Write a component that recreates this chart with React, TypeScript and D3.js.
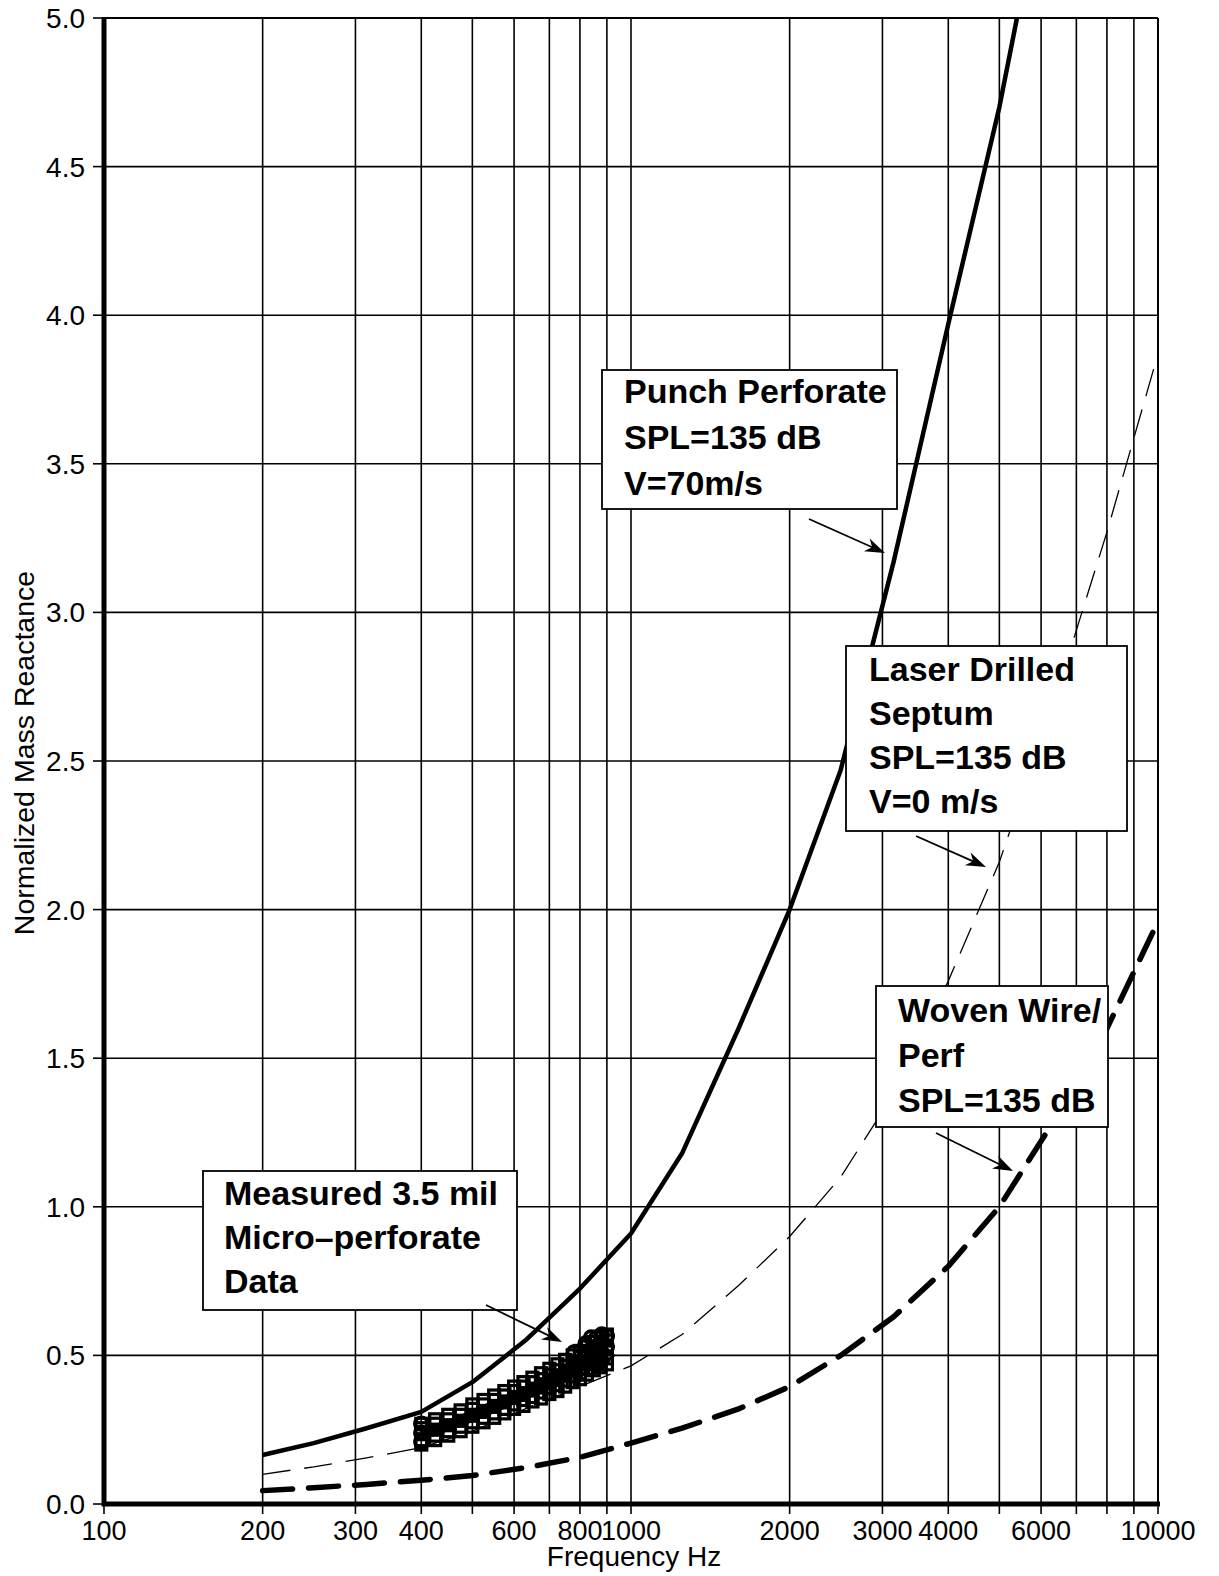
import React from "react";
import * as d3 from "d3";

const W = 1219;
const H = 1576;
const PL = 104, PR = 1158, PT = 18, PB = 1504;

// gridlines / ticks
const xGridFreqs = [200, 300, 400, 500, 600, 700, 800, 900, 1000, 2000, 3000, 4000, 5000, 6000, 7000, 8000, 9000, 10000];
const xTickMarks = [100, 200, 300, 400, 500, 600, 700, 800, 900, 1000, 2000, 3000, 4000, 5000, 6000, 7000, 8000, 9000, 10000];
const xTickLabels = [100, 200, 300, 400, 600, 800, 1000, 2000, 3000, 4000, 6000, 10000];
const yTicks = [0, 0.5, 1.0, 1.5, 2.0, 2.5, 3.0, 3.5, 4.0, 4.5, 5.0];

// Punch Perforate SPL=135 dB V=70 m/s (solid)
const punchFreq = [200, 250, 315, 400, 500, 630, 800, 1000, 1250, 1600, 2000, 2500, 3150, 4000, 5000, 5400];
const punchVal = [0.165, 0.205, 0.255, 0.31, 0.41, 0.55, 0.725, 0.91, 1.18, 1.6, 2.0, 2.47, 3.17, 3.97, 4.7, 5.0];

// Laser Drilled Septum (thin dashed)
const laserFreq = [200, 250, 315, 400, 500, 630, 800, 1000, 1250, 1600, 2000, 2500, 3150, 4000, 5000, 6300, 8000, 10000];
const laserVal = [0.1, 0.125, 0.155, 0.19, 0.245, 0.32, 0.395, 0.465, 0.57, 0.735, 0.9, 1.1, 1.38, 1.76, 2.16, 2.68, 3.27, 3.87];

// Woven Wire / Perf (thick dashed)
const wovenFreq = [200, 250, 315, 400, 500, 630, 800, 1000, 1250, 1600, 2000, 2500, 3150, 4000, 5000, 6300, 8000, 10000];
const wovenVal = [0.045, 0.055, 0.066, 0.08, 0.096, 0.122, 0.157, 0.205, 0.255, 0.32, 0.395, 0.5, 0.63, 0.8, 1.0, 1.28, 1.6, 1.96];

// Measured 3.5 mil micro-perforate data
const measFreq = [400, 425, 450, 475, 500, 525, 550, 575, 600, 625, 650, 675, 700, 725, 750, 775, 800, 825, 850, 875, 900];
const measTop = [0.27, 0.285, 0.3, 0.315, 0.335, 0.35, 0.365, 0.38, 0.395, 0.41, 0.425, 0.44, 0.455, 0.47, 0.485, 0.5, 0.515, 0.53, 0.545, 0.56, 0.57];
const measUpper = [0.255, 0.27, 0.285, 0.3, 0.32, 0.335, 0.35, 0.365, 0.38, 0.395, 0.41, 0.42, 0.435, 0.45, 0.465, 0.48, 0.495, 0.51, 0.525, 0.54, 0.55];
const measMid = [0.235, 0.25, 0.265, 0.28, 0.3, 0.31, 0.33, 0.345, 0.36, 0.37, 0.385, 0.4, 0.41, 0.425, 0.44, 0.455, 0.47, 0.48, 0.5, 0.51, 0.52];
const measLower = [0.215, 0.23, 0.245, 0.26, 0.275, 0.29, 0.305, 0.32, 0.335, 0.35, 0.36, 0.375, 0.39, 0.4, 0.415, 0.43, 0.44, 0.455, 0.47, 0.48, 0.49];
const measBottom = [0.2, 0.215, 0.23, 0.245, 0.26, 0.275, 0.29, 0.305, 0.32, 0.33, 0.345, 0.355, 0.37, 0.38, 0.395, 0.41, 0.42, 0.435, 0.45, 0.46, 0.47];
const circFreq = [400, 400, 400, 780, 820, 840, 860, 880, 900, 900];
const circVal = [0.27, 0.24, 0.21, 0.51, 0.54, 0.56, 0.56, 0.57, 0.565, 0.53];
const diaFreq = [860, 880, 900];
const diaVal = [0.47, 0.48, 0.5];

const FONT = "'Liberation Sans', Arial, Helvetica, sans-serif";

type Box = { x: number; y: number; w: number; h: number; lines: string[]; tx: number; ty: number; dy: number };
const boxes: Box[] = [
  { x: 602, y: 370, w: 295, h: 139, lines: ["Punch Perforate", "SPL=135 dB", "V=70m/s"], tx: 624, ty: 403, dy: 46 },
  { x: 846, y: 646, w: 281, h: 185, lines: ["Laser Drilled", "Septum", "SPL=135 dB", "V=0 m/s"], tx: 869, ty: 681, dy: 44 },
  { x: 876, y: 986, w: 232, h: 141, lines: ["Woven Wire/", "Perf", "SPL=135 dB"], tx: 898, ty: 1022, dy: 45 },
  { x: 203, y: 1171, w: 314, h: 139, lines: ["Measured 3.5 mil", "Micro\u2013perforate", "Data"], tx: 224, ty: 1205, dy: 44 },
];
const arrows = [
  [809, 519, 885, 553],
  [916, 836, 986, 867],
  [936, 1133, 1013, 1171],
  [486, 1305, 562, 1342],
];

function Arrow({ a }: { a: number[] }) {
  const [x1, y1, x2, y2] = a;
  const ang = Math.atan2(y2 - y1, x2 - x1);
  const L = 20, Wd = 7;
  const bx = x2 - L * Math.cos(ang), by = y2 - L * Math.sin(ang);
  const nx = -Math.sin(ang), ny = Math.cos(ang);
  const mx = x2 - L * 0.7 * Math.cos(ang), my = y2 - L * 0.7 * Math.sin(ang);
  const pts = `${x2},${y2} ${bx + nx * Wd},${by + ny * Wd} ${mx},${my} ${bx - nx * Wd},${by - ny * Wd}`;
  return (
    <g>
      <line x1={x1} y1={y1} x2={mx} y2={my} stroke="#000" strokeWidth={1.8} />
      <polygon points={pts} fill="#000" />
    </g>
  );
}

export default function App() {
  const x = d3.scaleLog().domain([100, 10000]).range([PL, PR]);
  const y = d3.scaleLinear().domain([0, 5]).range([PB, PT]);
  const line = d3
    .line<[number, number]>()
    .x((d) => x(d[0]))
    .y((d) => y(d[1]))
    .curve(d3.curveLinear);
  const band = d3
    .area<number>()
    .x((_, i) => x(measFreq[i]))
    .y0((_, i) => y(measLower[i]))
    .y1((_, i) => y(measUpper[i]));
  const zip = (f: number[], v: number[]) => f.map((ff, i) => [ff, v[i]] as [number, number]);
  const sq = 11;

  return (
    <svg width={W} height={H} style={{ position: "absolute", left: 0, top: 0, background: "#fff" }} fontFamily={FONT}>
      <rect x={0} y={0} width={W} height={H} fill="#fff" />
      {/* horizontal gridlines */}
      {yTicks.map((t) => (
        <line key={"h" + t} x1={PL} x2={PR} y1={y(t)} y2={y(t)} stroke="#000" strokeWidth={t === 5 ? 2 : 1.6} />
      ))}
      {/* vertical gridlines */}
      {xGridFreqs.map((f) => (
        <line key={"v" + f} x1={x(f)} x2={x(f)} y1={PT} y2={PB} stroke="#000" strokeWidth={f === 10000 ? 2 : 1.6} />
      ))}
      {/* curves */}
      <path d={line(zip(laserFreq, laserVal)) || ""} fill="none" stroke="#000" strokeWidth={1.3} strokeDasharray="28 14" />
      <path d={line(zip(wovenFreq, wovenVal)) || ""} fill="none" stroke="#000" strokeWidth={5.5} strokeDasharray="30 16" strokeLinecap="round" />
      <path d={line(zip(punchFreq, punchVal)) || ""} fill="none" stroke="#000" strokeWidth={4.5} strokeLinejoin="round" />
      {/* measured data */}
      <path d={band(measFreq) || ""} fill="#000" />
      {[measBottom, measLower, measMid, measUpper, measTop].map((arr, k) =>
        measFreq.map((f, i) => (
          <rect key={`m${k}-${i}`} x={x(f) - sq / 2} y={y(arr[i]) - sq / 2} width={sq} height={sq} fill="none" stroke="#000" strokeWidth={3.2} />
        ))
      )}
      {circFreq.map((f, i) => (
        <circle key={`c${i}`} cx={x(f)} cy={y(circVal[i])} r={6.5} fill="none" stroke="#000" strokeWidth={3.5} />
      ))}
      {diaFreq.map((f, i) => (
        <path key={`d${i}`} d={`M${x(f)},${y(diaVal[i]) - 7}l7,7l-7,7l-7,-7z`} fill="none" stroke="#000" strokeWidth={2.5} />
      ))}
      {/* annotation boxes */}
      {boxes.map((b, i) => (
        <g key={"b" + i}>
          <rect x={b.x} y={b.y} width={b.w} height={b.h} fill="#fff" stroke="#000" strokeWidth={1.8} />
          {b.lines.map((l, j) => (
            <text key={j} x={b.tx} y={b.ty + j * b.dy} fontSize={34} fontWeight="bold" fill="#000">
              {l}
            </text>
          ))}
        </g>
      ))}
      {arrows.map((a, i) => (
        <Arrow key={"a" + i} a={a} />
      ))}
      {/* axes */}
      <line x1={PL} x2={PL} y1={PT - 1} y2={PB + 2} stroke="#000" strokeWidth={5} />
      <line x1={PL - 2} x2={PR + 2} y1={PB} y2={PB} stroke="#000" strokeWidth={5} />
      {yTicks.map((t) => (
        <g key={"yt" + t}>
          <line x1={PL - 11} x2={PL} y1={y(t)} y2={y(t)} stroke="#000" strokeWidth={1.6} />
          <text x={85} y={y(t)} dy="0.36em" textAnchor="end" fontSize={28} fill="#000">
            {t.toFixed(1)}
          </text>
        </g>
      ))}
      {xTickMarks.map((f) => (
        <line key={"xt" + f} x1={x(f)} x2={x(f)} y1={PB} y2={PB + 10} stroke="#000" strokeWidth={1.6} />
      ))}
      {xTickLabels.map((f) => (
        <text key={"xl" + f} x={x(f)} y={1540} textAnchor="middle" fontSize={27} fill="#000">
          {String(f)}
        </text>
      ))}
      <text x={(PL + PR) / 2 + 3} y={1566} textAnchor="middle" fontSize={28} fill="#000">
        Frequency Hz
      </text>
      <text transform={`translate(34, ${(PT + PB) / 2 - 8}) rotate(-90)`} textAnchor="middle" fontSize={28.5} fill="#000">
        Normalized Mass Reactance
      </text>
    </svg>
  );
}
